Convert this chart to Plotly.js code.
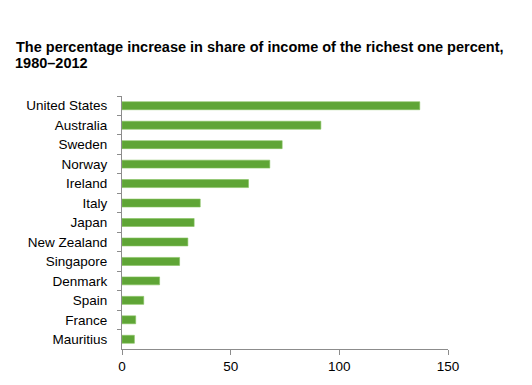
<!DOCTYPE html>
<html>
<head>
<meta charset="utf-8">
<script src="https://cdn.plot.ly/plotly-3.0.1.min.js"></script>
<style>html,body{margin:0;padding:0;background:#fff;}#chart{width:532px;height:385px;}</style>
</head>
<body>
<div id="chart"></div>
<script>
const countries = ["United States","Australia","Sweden","Norway","Ireland","Italy","Japan","New Zealand","Singapore","Denmark","Spain","France","Mauritius"];
const increase = [137, 91.5, 73.7, 68, 58.2, 36, 33.2, 30.3, 26.5, 17.3, 10, 6.3, 5.7];
const xTicks = [0, 50, 100, 150];
const titleLine1 = 'The percentage increase in share of income of the richest one percent,';
const titleLine2 = '1980–2012';

const trace = {
  type: 'bar',
  orientation: 'h',
  y: countries,
  x: increase,
  marker: {color: '#5fa536', line: {color: '#86c25f', width: 0.6}},
  hoverinfo: 'x+y'
};

const titleFont = {family: 'Liberation Sans, Arial, sans-serif', size: 14.5, color: '#000'};

const layout = {
  width: 532, height: 385,
  paper_bgcolor: '#fff', plot_bgcolor: '#fff',
  margin: {l: 122, r: 84, t: 96, b: 35.5, pad: 0},
  font: {family: 'Liberation Sans, Arial, sans-serif', size: 13.5, color: '#000'},
  title: {
    text: '<b>' + titleLine1 + '</b>',
    font: titleFont,
    xref: 'container', yref: 'container',
    x: 16/532, xanchor: 'left',
    y: 1 - 51.7/385, yanchor: 'bottom', pad: {t: 0, b: 0, l: 0, r: 0}
  },
  annotations: [{
    text: '<b>' + titleLine2 + '</b>',
    font: titleFont,
    xref: 'paper', yref: 'paper',
    x: (13 - 122) / (532 - 122 - 84), xanchor: 'left',
    y: 1 + (96 - 53) / (385 - 96 - 35.5), yanchor: 'top',
    showarrow: false, align: 'left'
  }],
  bargap: 0.59,
  showlegend: false,
  xaxis: {
    range: [0, 150], tickvals: xTicks, ticktext: xTicks.map(String),
    showgrid: false, zeroline: false,
    showline: true, linecolor: '#8c8c8c', linewidth: 1,
    ticks: 'outside', ticklen: 5, tickcolor: '#8c8c8c', tickwidth: 1,
    tickfont: {size: 13.5}, fixedrange: true
  },
  yaxis: {
    autorange: 'reversed', type: 'category',
    showgrid: false, zeroline: false,
    showline: true, linecolor: '#8c8c8c', linewidth: 1,
    ticks: 'outside', ticklen: 4, tickcolor: '#8c8c8c', tickwidth: 1,
    tickson: 'boundaries',
    tickfont: {size: 13.5}, ticklabelstandoff: 11, fixedrange: true
  }
};

Plotly.newPlot('chart', [trace], layout, {displayModeBar: false, staticPlot: true});
</script>
</body>
</html>
